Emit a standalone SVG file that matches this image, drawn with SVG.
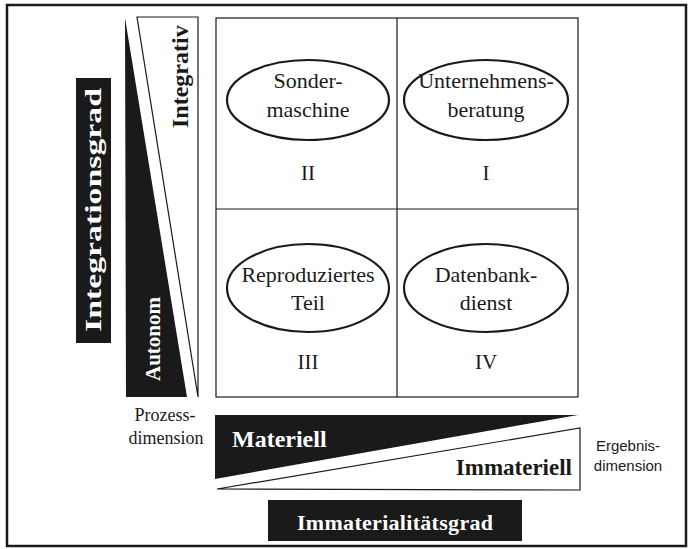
<svg xmlns="http://www.w3.org/2000/svg" width="691" height="549" viewBox="0 0 691 549">
<style>
.t{font-family:"Liberation Serif","Times New Roman",serif;fill:#1a1a1a}
.c{text-anchor:middle}
.b{font-weight:bold}
.w{fill:#fff}
.cell{font-size:22px}
.ell{fill:#fff;stroke:#1a1a1a;stroke-width:2.2}
.grid{fill:none;stroke:#1a1a1a;stroke-width:1.2}
.s{font-family:"Liberation Sans",Arial,sans-serif;fill:#1a1a1a;font-size:15px}
</style>
<rect x="0" y="0" width="691" height="549" fill="#fff"/>
<rect x="7" y="5" width="679" height="541" fill="none" stroke="#1a1a1a" stroke-width="2.5"/>

<g id="grid">
<rect class="grid" x="216" y="18" width="362" height="379"/>
<line class="grid" x1="397" y1="18" x2="397" y2="397"/>
<line class="grid" x1="216" y1="209" x2="578" y2="209"/>
</g>

<g id="node-II">
<ellipse class="ell" cx="308" cy="100" rx="81" ry="40"/>
<text class="t c cell" x="308" y="88">Sonder-</text>
<text class="t c cell" x="308" y="117">maschine</text>
<text class="t c" x="308" y="180" font-size="21">II</text>
</g>
<g id="node-I">
<ellipse class="ell" cx="486" cy="100" rx="82" ry="40"/>
<text class="t c cell" x="486" y="88">Unternehmens-</text>
<text class="t c cell" x="486" y="117">beratung</text>
<text class="t c" x="486" y="180" font-size="21">I</text>
</g>
<g id="node-III">
<ellipse class="ell" cx="308" cy="288" rx="81" ry="44"/>
<text class="t c cell" x="308" y="282">Reproduziertes</text>
<text class="t c cell" x="308" y="310">Teil</text>
<text class="t c" x="308" y="369" font-size="21">III</text>
</g>
<g id="node-IV">
<ellipse class="ell" cx="486" cy="288" rx="82" ry="44"/>
<text class="t c cell" x="486" y="282">Datenbank-</text>
<text class="t c cell" x="486" y="310">dienst</text>
<text class="t c" x="486" y="369" font-size="21">IV</text>
</g>

<g id="integrationsgrad">
<rect x="76" y="78" width="35" height="265" fill="#1a1a1a"/>
<text class="t w b c" transform="translate(101,210) rotate(-90)" font-size="23" textLength="244" lengthAdjust="spacingAndGlyphs">Integrationsgrad</text>
</g>

<g id="prozess-triangles">
<polygon points="125,18 187,397 126,397" fill="#1a1a1a"/>
<polygon points="137,17 198,17 198,397" fill="#fff" stroke="#1a1a1a" stroke-width="1.2"/>
<text class="t b" transform="translate(188,128) rotate(-90)" font-size="24">Integrativ</text>
<text class="t w b" transform="translate(160,381) rotate(-90)" font-size="21">Autonom</text>
</g>

<g id="prozess-label">
<text class="t c" x="165" y="421" font-size="18">Prozess-</text>
<text class="t c" x="166" y="444" font-size="18">dimension</text>
</g>

<g id="ergebnis-triangles">
<polygon points="215,415 578,415 215,479" fill="#1a1a1a"/>
<polygon points="217,489 580,428 580,490" fill="#fff" stroke="#1a1a1a" stroke-width="1.2"/>
<text class="t w b" x="232" y="447" font-size="24">Materiell</text>
<text class="t b" x="572" y="475" font-size="23" text-anchor="end">Immateriell</text>
</g>

<g id="ergebnis-label">
<text class="s c" x="628" y="451">Ergebnis-</text>
<text class="s c" x="628" y="471">dimension</text>
</g>

<g id="immaterialitaetsgrad">
<rect x="268" y="500" width="254" height="41" fill="#1a1a1a"/>
<text class="t w b c" x="395" y="530" font-size="22" textLength="196" lengthAdjust="spacing">Immaterialitätsgrad</text>
</g>
</svg>
